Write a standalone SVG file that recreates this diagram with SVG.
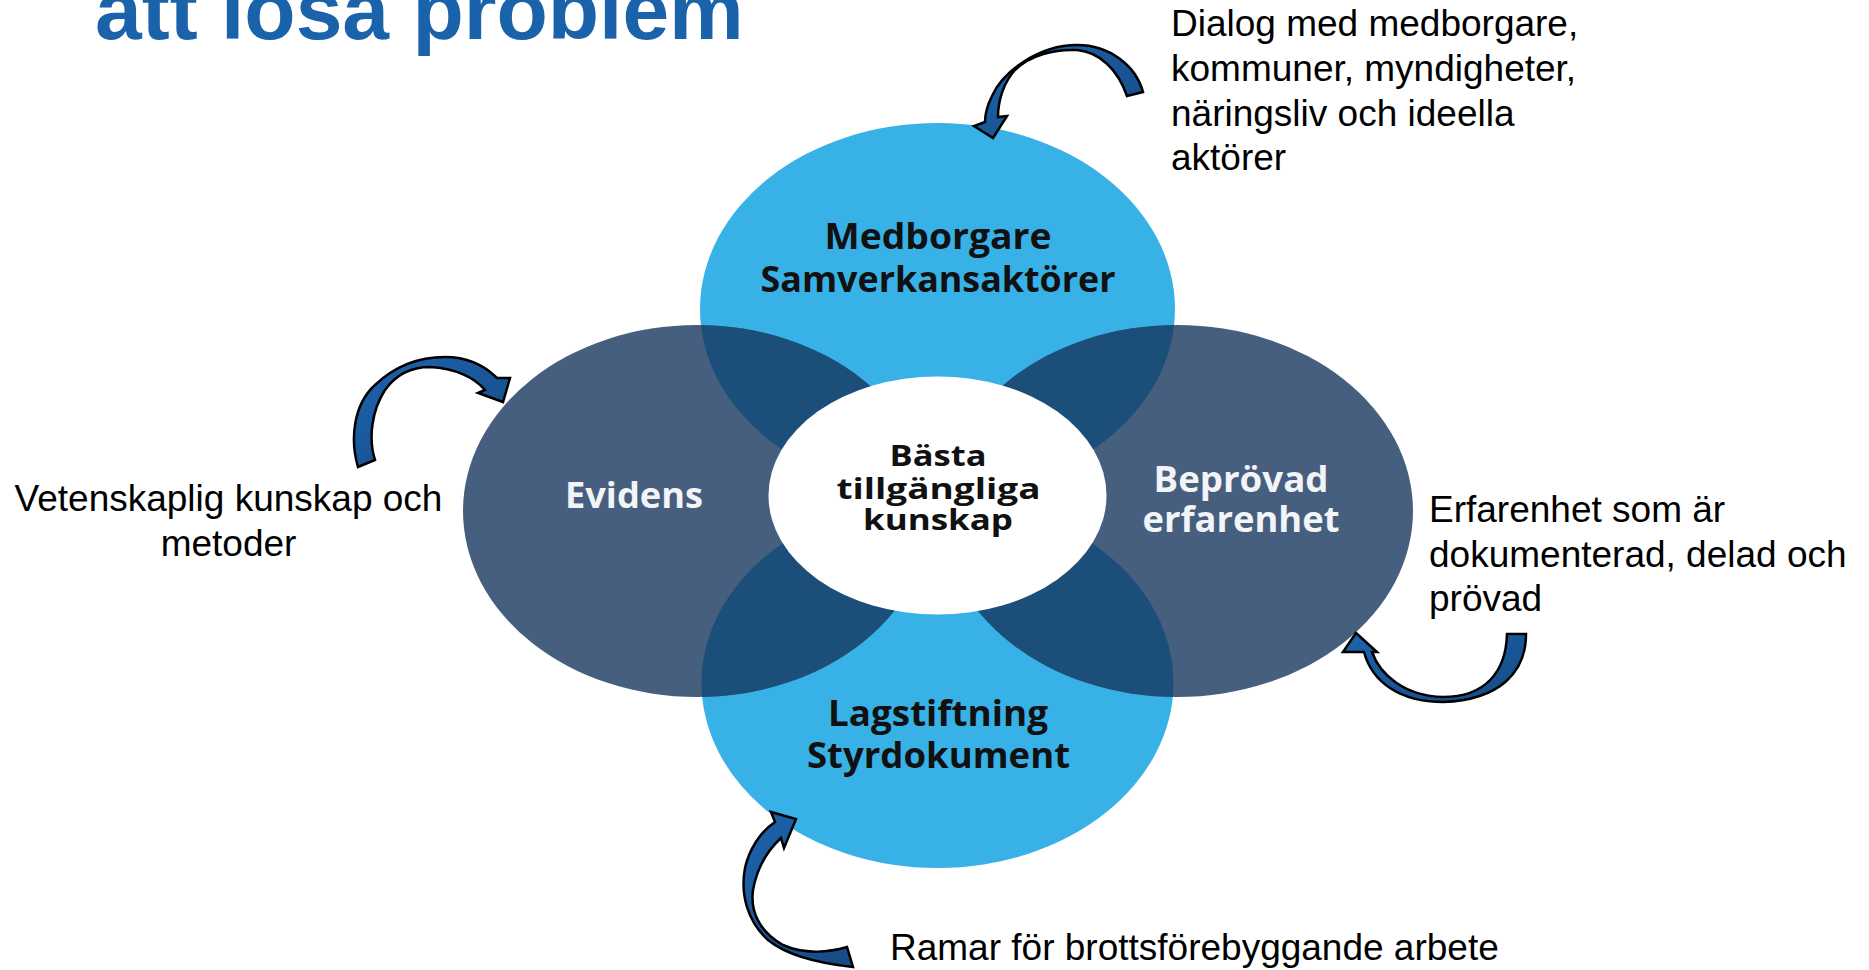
<svg xmlns="http://www.w3.org/2000/svg" width="1869" height="970" viewBox="0 0 1869 970">
<style>
.title{font-family:"Liberation Sans",Arial,sans-serif;font-weight:bold;font-size:84px;fill:#1A62AA}
.note{font-family:"Liberation Sans",Arial,sans-serif;font-size:37px;fill:#000}
.lbl{font-family:"Open Sans","Noto Sans",sans-serif;font-weight:bold;font-size:35px;text-anchor:middle;fill:#111}
.lblw{fill:#F2F4F7}
.ctr{font-family:"Open Sans","Noto Sans",sans-serif;font-weight:bold;font-size:29px;text-anchor:middle;fill:#111}
.light{fill:#38B1E7}
.slate{fill:#475F7E}
.ovl{fill:#1B4F7A}
.arr{fill:url(#ag);stroke:#000;stroke-width:2.5;stroke-linejoin:miter}
</style>
<defs>
<linearGradient id="ag" x1="0" y1="0" x2="1" y2="1">
<stop offset="0" stop-color="#1E64AE"/>
<stop offset="1" stop-color="#154A84"/>
</linearGradient>
<clipPath id="lightclip">
<ellipse cx="937.5" cy="309" rx="237.5" ry="186"/>
<ellipse cx="937.5" cy="683" rx="236" ry="185"/>
</clipPath>
</defs>

<text class="title" x="95" y="39">att lösa problem</text>

<g id="node-medborgare">
<ellipse class="light" cx="937.5" cy="309" rx="237.5" ry="186"/>
</g>
<g id="node-lagstiftning">
<ellipse class="light" cx="937.5" cy="683" rx="236" ry="185"/>
</g>
<g id="node-evidens">
<ellipse class="slate" cx="697" cy="511" rx="234" ry="186"/>
</g>
<g id="node-beprovad">
<ellipse class="slate" cx="1177" cy="511" rx="236" ry="186"/>
</g>
<g id="overlaps" clip-path="url(#lightclip)">
<ellipse class="ovl" cx="697" cy="511" rx="234" ry="186"/>
<ellipse class="ovl" cx="1177" cy="511" rx="236" ry="186"/>
</g>
<g id="node-center">
<ellipse cx="937.5" cy="495.5" rx="169" ry="119" fill="#FFFFFF"/>
</g>

<g id="labels">
<text class="lbl" x="938" y="249" textLength="227" lengthAdjust="spacingAndGlyphs">Medborgare</text>
<text class="lbl" x="938" y="292" textLength="355" lengthAdjust="spacingAndGlyphs">Samverkansaktörer</text>
<text class="lbl lblw" x="634" y="508" textLength="138" lengthAdjust="spacingAndGlyphs">Evidens</text>
<text class="lbl lblw" x="1241" y="492" textLength="175" lengthAdjust="spacingAndGlyphs">Beprövad</text>
<text class="lbl lblw" x="1241" y="532" textLength="197" lengthAdjust="spacingAndGlyphs">erfarenhet</text>
<text class="lbl" x="938" y="726" textLength="220" lengthAdjust="spacingAndGlyphs">Lagstiftning</text>
<text class="lbl" x="938.5" y="768" textLength="263" lengthAdjust="spacingAndGlyphs">Styrdokument</text>
<text class="ctr" x="938" y="466" textLength="97" lengthAdjust="spacingAndGlyphs">Bästa</text>
<text class="ctr" x="938.5" y="499" textLength="204" lengthAdjust="spacingAndGlyphs">tillgängliga</text>
<text class="ctr" x="938" y="530" textLength="150" lengthAdjust="spacingAndGlyphs">kunskap</text>
</g>

<g id="connectors">
<path class="arr" d="M1143,92 C1136,66 1110,45 1077,45 C1038,45 1003,72 992,96 C987,106 985,114 985,122 L974,126 L993,138 L1007,116 L998,117 C998,100 1004,82 1015,70 C1030,55 1055,49 1077,50 C1100,52 1118,70 1127,96 Z"/>
<path class="arr" d="M358,467 C350,440 353,405 375,385 C395,366 420,357 445,357 C468,357 485,366 497,378 L510,378 L503,402 L478,393 L485,390 C475,378 455,368 430,367 C410,367 395,376 385,390 C372,410 368,438 375,460 Z"/>
<path class="arr" d="M853,967 C825,964 790,958 768,940 C748,922 740,895 745,868 C749,850 760,832 775,822 L771,812 L796,819 L784,848 L781,838 C768,850 757,868 753,890 C750,912 760,932 783,945 C805,955 830,952 847,947 Z"/>
<path class="arr" d="M1526,634 C1526,672 1500,700 1443,702 C1400,702 1372,682 1364,652 L1343,652 L1356,633 L1377,652 L1372,652 C1380,675 1405,696 1443,697 C1485,697 1506,672 1507,634 Z"/>
</g>

<g id="annotations">
<text class="note" x="1171" y="36">Dialog med medborgare,</text>
<text class="note" x="1171" y="81">kommuner, myndigheter,</text>
<text class="note" x="1171" y="126">näringsliv och ideella</text>
<text class="note" x="1171" y="170">aktörer</text>
<text class="note" x="228.5" y="511" text-anchor="middle">Vetenskaplig kunskap och</text>
<text class="note" x="228.5" y="556" text-anchor="middle">metoder</text>
<text class="note" x="1429" y="522">Erfarenhet som är</text>
<text class="note" x="1429" y="567">dokumenterad, delad och</text>
<text class="note" x="1429" y="611">prövad</text>
<text class="note" x="890" y="960">Ramar för brottsförebyggande arbete</text>
</g>
</svg>
